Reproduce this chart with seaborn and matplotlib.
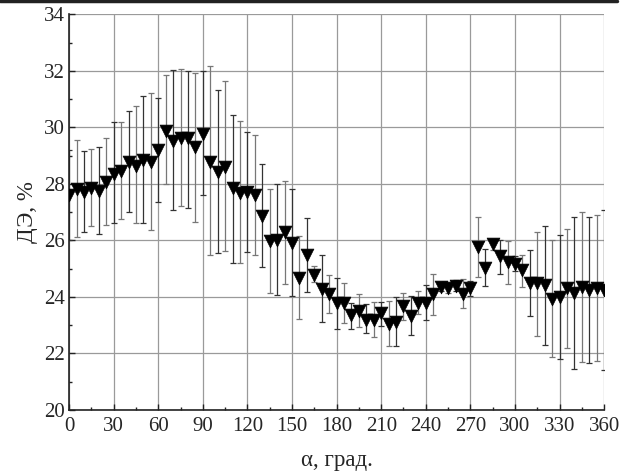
import numpy as np
import pandas as pd
import matplotlib
matplotlib.use("Agg")
import matplotlib.pyplot as plt
from matplotlib.lines import Line2D
from matplotlib.ticker import MultipleLocator
import seaborn as sns

angle = list(range(0, 365, 5))
de_mean = [27.60, 27.82, 27.70, 27.87, 27.74, 28.08, 28.35, 28.45, 28.76, 28.65,
           28.83, 28.79, 29.19, 29.89, 29.53, 29.61, 29.61, 29.31, 29.78, 28.79,
           28.41, 28.60, 27.86, 27.68, 27.70, 27.62, 26.88, 25.97, 26.03, 26.29,
           25.92, 24.66, 25.47, 24.78, 24.29, 24.09, 23.77, 23.77, 23.35, 23.52,
           23.20, 23.18, 23.42, 23.05, 23.11, 23.67, 23.32, 23.80, 23.80, 24.09,
           24.36, 24.30, 24.40, 24.12, 24.30, 25.77, 25.03, 25.86, 25.44, 25.23,
           25.18, 24.94, 24.48, 24.48, 24.44, 23.94, 23.99, 24.32, 24.15, 24.36,
           24.24, 24.30, 24.24]
de_high = [29.20, 29.54, 29.15, 29.25, 29.29, 29.64, 30.18, 30.18, 30.59, 30.74,
           31.12, 31.22, 31.05, 31.85, 32.04, 32.07, 32.01, 31.94, 31.98, 32.18,
           31.31, 31.63, 30.45, 30.21, 29.84, 29.74, 28.71, 27.82, 28.00, 28.11,
           27.82, 26.15, 26.80, 25.09, 25.50, 24.76, 24.68, 24.48, 23.80, 24.10,
           23.74, 23.83, 23.83, 23.85, 24.01, 24.15, 24.03, 24.21, 24.44, 24.82,
           24.50, 24.45, 24.60, 24.65, 24.56, 26.83, 25.68, 26.05, 26.03, 25.97,
           25.44, 25.49, 25.65, 26.29, 26.50, 26.01, 26.18, 26.42, 26.83, 27.02,
           26.83, 26.91, 27.08]
de_low = [26.00, 26.11, 26.29, 26.50, 26.23, 26.55, 26.60, 26.77, 26.99, 26.60,
          26.60, 26.36, 27.36, 28.01, 27.06, 27.23, 27.16, 26.67, 27.62, 25.50,
          25.56, 25.62, 25.21, 25.21, 25.58, 25.47, 25.07, 24.15, 24.08, 24.47,
          24.03, 23.23, 24.18, 24.52, 23.11, 23.44, 22.88, 23.09, 22.88, 22.93,
          22.73, 22.59, 22.97, 22.26, 22.26, 23.20, 22.64, 23.38, 23.20, 23.36,
          24.20, 24.15, 24.20, 23.60, 24.03, 24.71, 24.38, 25.65, 24.83, 24.47,
          24.91, 24.35, 23.32, 22.61, 22.30, 21.87, 21.82, 22.21, 21.46, 21.71,
          21.67, 21.75, 21.43]

x_ticks = list(range(0, 361, 30))
y_ticks = list(range(20, 35, 2))

df = pd.DataFrame({"angle": angle, "mean": de_mean, "hi": de_high, "lo": de_low})
df["err_up"] = df["hi"] - df["mean"]
df["err_dn"] = df["mean"] - df["lo"]

sns.set_theme(style="white")
plt.rcParams["font.family"] = ["Liberation Serif", "DejaVu Serif"]

fig = plt.figure(figsize=(6.28, 4.71), dpi=100)
ax = fig.add_axes([0.110, 0.1295, 0.852, 0.840])

ax.grid(True, color="#9a9a9a", linewidth=0.9, zorder=0)
ax.set_axisbelow(True)

even = df.iloc[::2]
odd = df.iloc[1::2]
ax.errorbar(even["angle"], even["mean"], yerr=[even["err_dn"], even["err_up"]],
            fmt="none", ecolor="#333333", elinewidth=0.9, capsize=2.3, capthick=0.9, zorder=2)
ax.errorbar(odd["angle"], odd["mean"], yerr=[odd["err_dn"], odd["err_up"]],
            fmt="none", ecolor="#777777", elinewidth=0.9, capsize=2.3, capthick=0.9, zorder=2)

sns.scatterplot(data=df, x="angle", y="mean", marker="v", s=85, color="black",
                edgecolor="black", linewidth=0.5, ax=ax, zorder=3)

ax.set_xlim(0, 360)
ax.set_ylim(20, 34)
ax.set_xticks(x_ticks)
ax.set_yticks(y_ticks)
ax.xaxis.set_minor_locator(MultipleLocator(15))
ax.yaxis.set_minor_locator(MultipleLocator(1))
ax.tick_params(axis="both", which="major", direction="in", length=4, width=1,
               labelsize=15, color="#222222")
ax.tick_params(axis="x", which="major", pad=5)
ax.tick_params(axis="y", which="major", pad=3)
ax.tick_params(axis="both", which="minor", direction="in", length=2.5, width=1,
               color="#222222")
ax.tick_params(axis="x", which="both", bottom=True, top=False)
ax.tick_params(axis="y", which="both", left=True, right=False)

for side in ["top", "right"]:
    ax.spines[side].set_visible(False)
for side in ["left", "bottom"]:
    ax.spines[side].set_color("#222222")
    ax.spines[side].set_linewidth(1.2)

ax.set_xlabel("α, град.", fontsize=16.5, labelpad=10)
ax.set_ylabel("ДЭ, %", fontsize=16.5, labelpad=4)

fig.add_artist(Line2D([0, 0.983], [0.998, 0.998], color="#222222", linewidth=2.5,
                      transform=fig.transFigure))

fig.savefig("out.png", dpi=100)
